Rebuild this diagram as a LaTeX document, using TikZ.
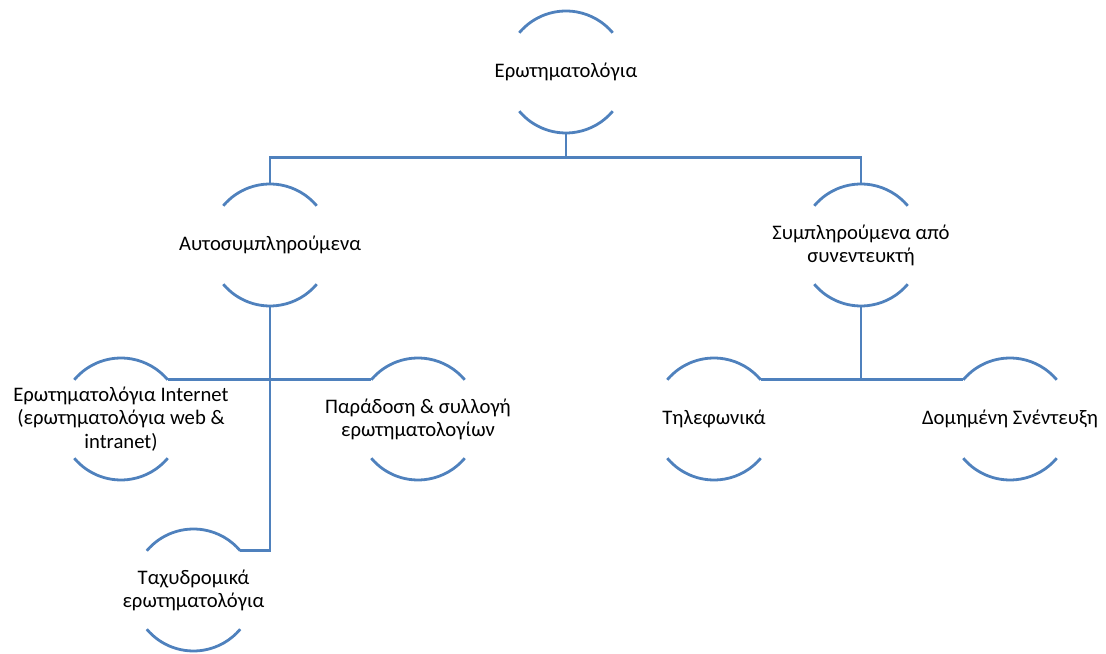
\documentclass[tikz,border=0pt]{standalone}
\usepackage{fontspec}
\setmainfont{Carlito}
\definecolor{ringblue}{RGB}{79,129,189}
\def\rr{45.75pt}

\begin{document}
\begin{tikzpicture}[x=0.75pt,y=0.75pt, r/.style={minimum width=91.5pt,minimum height=91.5pt,inner sep=0pt,align=center,font=\fontsize{15.5}{17.4}\selectfont}, ln/.style={draw=ringblue,line width=2.1pt}]
  \useasboundingbox (0,0) rectangle (1106,653);
  \node[r](q) at (566,581){Ερωτηματολόγια};
  \node[r](self) at (270,408){Αυτοσυμπληρούμενα};
  \node[r](intv) at (861,408){Συμπληρούμενα από\\συνεντευκτή};
  \node[r](web) at (121,234){Ερωτηματολόγια Internet\\(ερωτηματολόγια web \&\\intranet)};
  \node[r](deliv) at (418,234){Παράδοση \& συλλογή\\ερωτηματολογίων};
  \node[r](post) at (193.5,63){Ταχυδρομικά\\ερωτηματολόγια};
  \node[r](phone) at (714,234){Τηλεφωνικά};
  \node[r](struct) at (1010,234){Δομημένη Σνέντευξη};
  \foreach \n in {q,self,intv,web,deliv,post,phone,struct}{
    \draw[ln]([shift={(140:\rr)}]\n.center) arc[start angle=140,end angle=40,radius=\rr];
    \draw[ln]([shift={(220:\rr)}]\n.center) arc[start angle=220,end angle=320,radius=\rr];}
  \foreach \x in {self,intv}{\draw[ln](q.south)--++(0,-24)-|(\x.north);}
  \foreach \x/\a in {web/40,deliv/140,post/40}{\draw[ln](self.south)|-([shift={(\a:\rr)}]\x.center);}
  \foreach \x/\a in {phone/40,struct/140}{\draw[ln](intv.south)|-([shift={(\a:\rr)}]\x.center);}
\end{tikzpicture}
\end{document}
